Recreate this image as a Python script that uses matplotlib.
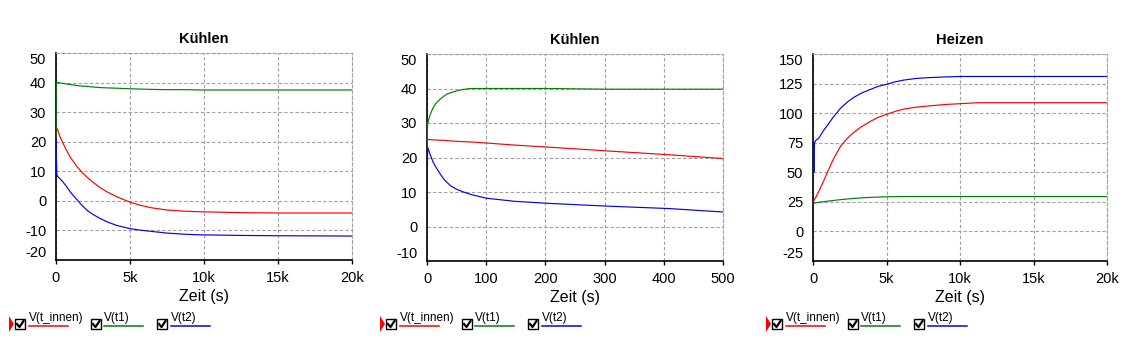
import matplotlib
matplotlib.use("Agg")
import matplotlib.pyplot as plt
from matplotlib.lines import Line2D
from matplotlib.patches import Rectangle, Polygon

plt.rcParams['font.family'] = ['Liberation Sans', 'DejaVu Sans']

W, H = 1143, 344

# --- Kühlen, long run (0 .. 20k s) ---
t_a = [0, 20, 60, 100, 250, 500, 750, 1000, 1400, 1750, 2100, 2500, 3000, 3500, 4100, 5000,
       5700, 6400, 7500, 8700, 9800, 12700, 15000, 20000]
innen_a = [25, 24.8, 24.5, 24.2, 21.9, 19.2, 16.7, 14.5, 11.7, 9.7, 8.0, 6.3, 4.4, 2.9, 1.4, -0.45,
           -1.5, -2.3, -3.1, -3.5, -3.7, -4.0, -4.1, -4.1]
t1_a = [21, 40, 40, 40, 39.9, 39.7, 39.5, 39.3, 39.0, 38.8, 38.7, 38.5, 38.3, 38.2, 38.1, 37.9,
        37.8, 37.7, 37.6, 37.6, 37.5, 37.5, 37.5, 37.5]
t2_a = [21, 15, 9, 8.3, 7.6, 6.2, 4.6, 2.8, 0.5, -1.5, -3.2, -4.6, -6.0, -7.2, -8.3, -9.4,
        -9.9, -10.3, -10.9, -11.3, -11.5, -11.7, -11.8, -11.9]

# --- Kühlen, first 500 s ---
t_b = [0, 1, 5, 10, 15, 22, 28, 33, 40, 50, 60, 74, 100, 148, 206, 305, 409, 500]
innen_b = [25.2, 25.2, 25.2, 25.1, 25.1, 25.0, 25.0, 24.9, 24.8, 24.7, 24.6, 24.5, 24.2, 23.6,
           23.0, 21.9, 20.8, 19.7]
t1_b = [22, 29.8, 32.3, 34.3, 35.7, 36.9, 37.7, 38.3, 38.8, 39.3, 39.7, 40.0, 40.0, 40.0,
        40.0, 39.8, 39.8, 39.8]
t2_b = [0, 23, 21, 18.8, 17.2, 15.3, 13.8, 12.9, 11.8, 10.8, 10.1, 9.3, 8.2, 7.3, 6.7, 5.9, 5.2, 4.2]

# --- Heizen (0 .. 20k s) ---
t_c = [0, 20, 60, 100, 200, 400, 700, 1000, 1400, 1900, 2400, 2800, 3300, 3900, 4400, 5000,
       5600, 6200, 7000, 7800, 9000, 10000, 11200, 20000]
innen_c = [25, 25.4, 26.2, 27, 29, 34, 42, 50.5, 61.5, 72.5, 79.5, 84, 88.5, 93, 96.3, 99,
           101.5, 103.5, 105, 106, 107.3, 108, 108.8, 108.8]
t1_c = [21, 23.5, 23.8, 24.0, 24.2, 24.6, 25.1, 25.6, 26.2, 26.9, 27.5, 27.9, 28.4, 28.8, 29.0, 29.3,
        29.4, 29.5, 29.5, 29.5, 29.5, 29.5, 29.5, 29.5]
t2_c = [0, 75, 50, 75, 77, 79, 85, 90, 97, 104.5, 110, 113.5, 117, 120, 122.5, 124.4,
        126.5, 128, 129.3, 130, 130.6, 131, 131, 131]

panels = [
    ("Kühlen", t_a, innen_a, t1_a, t2_a, (0, 20000), [0, 5000, 10000, 15000, 20000],
     ["0", "5k", "10k", "15k", "20k"], (-20, 50), [-20, -10, 0, 10, 20, 30, 40, 50]),
    ("Kühlen", t_b, innen_b, t1_b, t2_b, (0, 500), [0, 100, 200, 300, 400, 500],
     ["0", "100", "200", "300", "400", "500"], (-10, 50), [-10, 0, 10, 20, 30, 40, 50]),
    ("Heizen", t_c, innen_c, t1_c, t2_c, (0, 20000), [0, 5000, 10000, 15000, 20000],
     ["0", "5k", "10k", "15k", "20k"], (-25, 150), [-25, 0, 25, 50, 75, 100, 125, 150]),
]

# axes boxes in pixels: left, top, right, bottom
boxes = [(56, 53, 352, 260), (427, 54, 723, 261), (813, 54, 1107, 261)]

series_names = ["V(t_innen)", "V(t1)", "V(t2)"]
series_colors = ["#ff0000", "#008000", "#0000ff"]

fig = plt.figure(figsize=(W / 100, H / 100), dpi=100)


def fx(px):
    return px / W


def fy(py):
    return 1 - py / H


def draw_legend(left):
    # red marker in front of the first entry
    tri = Polygon([[fx(left - 47), fy(316)], [fx(left - 47), fy(332)], [fx(left - 42), fy(324)]],
                  closed=True, transform=fig.transFigure, color="#ff0000", lw=0)
    fig.add_artist(tri)
    offs = [(-41, -27, 12), (35, 48, 87), (101, 115, 154)]
    for (bx, tx, lx2), name, col in zip(offs, series_names, series_colors):
        box = Rectangle((fx(left + bx), fy(329)), 10 / W, 10 / H, transform=fig.transFigure,
                        fill=False, ec="black", lw=1)
        fig.add_artist(box)
        fig.add_artist(Line2D([fx(left + bx + 2), fx(left + bx + 4.5), fx(left + bx + 8.5)],
                              [fy(324), fy(327), fy(321)], transform=fig.transFigure,
                              color="black", lw=1.6))
        fig.text(fx(left + tx), fy(321), name, fontsize=8.5, ha="left", va="baseline")
        fig.add_artist(Line2D([fx(left + tx), fx(left + lx2)], [fy(326), fy(326)],
                              transform=fig.transFigure, color=col, lw=1.1))


for (title, t, innen, t1, t2, xlim, xt, xtl, ylim, yt), (l, top, r, b) in zip(panels, boxes):
    ax = fig.add_axes([fx(l), fy(b), (r - l) / W, (b - top) / H])
    for vals, col in zip([innen, t1, t2], series_colors):
        ax.plot(t, vals, color=col, lw=0.85, zorder=3)
    ax.set_xlim(*xlim)
    ax.set_ylim(*ylim)
    ax.set_xticks(xt)
    ax.set_xticklabels(xtl)
    ax.set_yticks(yt)
    ax.set_yticklabels([str(v) for v in yt])
    # keep the outermost labels inside the plot height
    ylabels = ax.get_yticklabels()
    ylabels[0].set_va("bottom")
    ylabels[-1].set_va("top")
    ax.grid(True, color="#a0a0a0", linestyle=(0, (3, 2)), lw=0.8)
    for side in ["top", "right"]:
        ax.spines[side].set_color("#a0a0a0")
        ax.spines[side].set_linestyle((0, (3, 2)))
        ax.spines[side].set_linewidth(0.8)
    for side in ["left", "bottom"]:
        ax.spines[side].set_color("black")
        ax.spines[side].set_linewidth(1.2)
    ax.tick_params(axis="y", length=0, pad=7, labelsize=10.5)
    ax.tick_params(axis="x", length=3, width=1, pad=5, labelsize=10.5)
    ax.set_title(title, fontsize=10.5, fontweight="bold", pad=7)
    ax.set_xlabel("Zeit (s)", fontsize=11.5, labelpad=3)
    draw_legend(l)

fig.savefig("out.png", dpi=100)
